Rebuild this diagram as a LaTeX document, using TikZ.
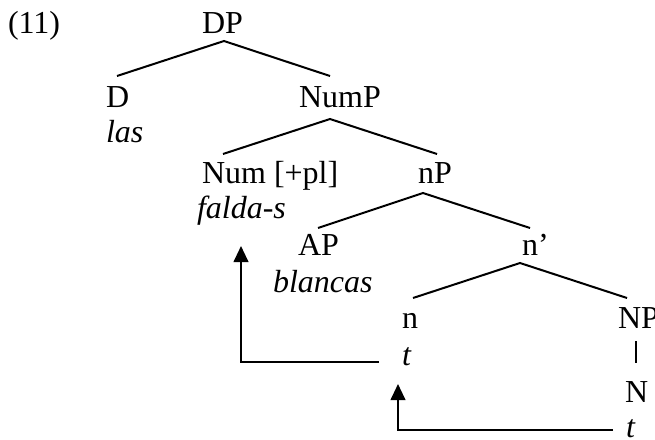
\documentclass[tikz,border=0pt]{standalone}
\usepackage{fontspec}
\setmainfont{Liberation Serif}
\usetikzlibrary{arrows.meta}
\begin{document}
\begin{tikzpicture}[x=0.75pt,y=-0.75pt,
  lbl/.style={anchor=base west,inner sep=0pt,outer sep=0pt,font=\fontsize{24}{29}\selectfont},
  word/.style={lbl,font=\fontsize{24}{29}\selectfont\itshape},
  branch/.style={line width=1.5pt},
  move/.style={line width=1.5pt,-{Triangle[width=11pt,length=12pt]}}]
\useasboundingbox (0,0) rectangle (655,439);
% labels
\node[lbl] (ex) at (8,33) {(11)};
\node[lbl] (DP) at (202,33) {DP};
\node[lbl] (D) at (106,107) {D};
\node[word] (las) at (106,142) {las};
\node[lbl] (NumP) at (299,107) {NumP};
\node[lbl] (Num) at (202,183) {Num [+pl]};
\node[word] (falda) at (197,218) {falda-s};
\node[lbl] (nP) at (418,183) {nP};
\node[lbl] (AP) at (298,255) {AP};
\node[word] (blancas) at (273,292) {blancas};
\node[lbl] (nbar) at (522,255) {n’};
\node[lbl] (n) at (402,328) {n};
\node[lbl] (NP) at (618,328) {NP};
\node[word] (t1) at (402,365) {t};
\node[lbl] (N) at (625,402) {N};
\node[word] (t2) at (626,437) {t};
% branch points
\coordinate (DPb) at (224,41);
\coordinate (Dt) at (117,76);
\coordinate (NumPt) at (330,76);
\coordinate (NumPb) at (330,119);
\coordinate (Numt) at (223,154);
\coordinate (nPt) at (437,154);
\coordinate (nPb) at (423,193);
\coordinate (APt) at (318,228);
\coordinate (nbart) at (530,228);
\coordinate (nbarb) at (520,263);
\coordinate (nt) at (413,298);
\coordinate (NPt) at (627,298);
\coordinate (NPb) at (636,341);
\coordinate (Nt) at (636,363);
% branches
\draw[branch] (Dt) -- (DPb) -- (NumPt);
\draw[branch] (Numt) -- (NumPb) -- (nPt);
\draw[branch] (APt) -- (nPb) -- (nbart);
\draw[branch] (nt) -- (nbarb) -- (NPt);
\draw[branch] (NPb) -- (Nt);
% movement arrows
\coordinate (m1s) at (379,362);
\coordinate (m1e) at (241,246);
\coordinate (m2s) at (613,430);
\coordinate (m2e) at (398,384);
\draw[move] (m1s) -| (m1e);
\draw[move] (m2s) -| (m2e);
\end{tikzpicture}
\end{document}
